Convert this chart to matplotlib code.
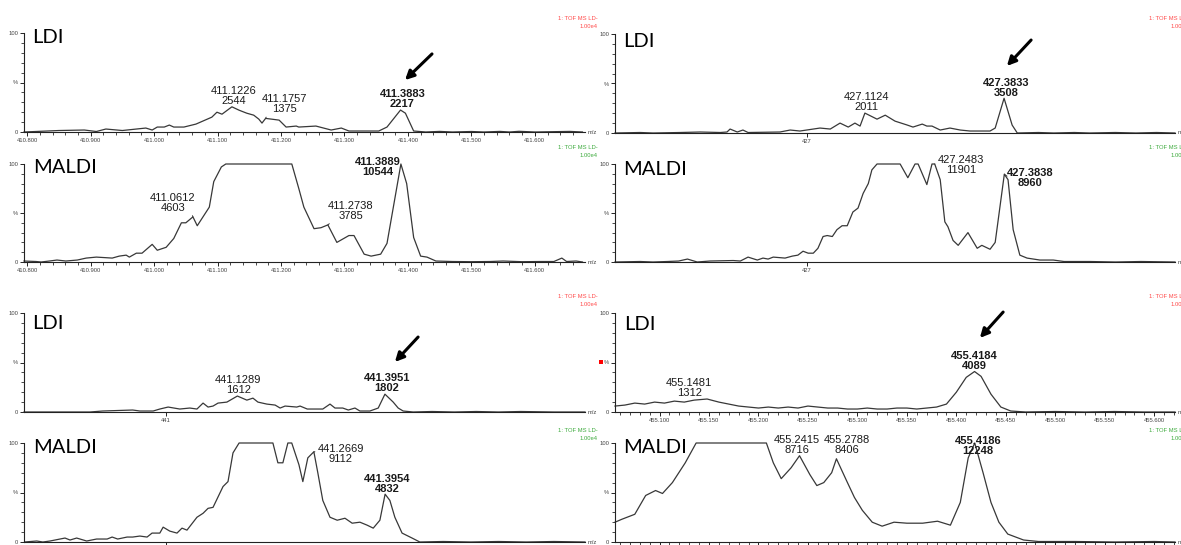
import numpy as np
import matplotlib.pyplot as plt
from matplotlib.ticker import MultipleLocator, FixedLocator

# ---- spectra: m/z and relative intensity (% of 1.00e4) ----
ldi_411_mz = [410.795, 410.850, 410.890, 410.909, 410.924, 410.950, 410.987, 410.997, 411.005,
              411.016, 411.024, 411.031, 411.047, 411.066, 411.091, 411.099, 411.107, 411.134,
              411.146, 411.157, 411.165, 411.170, 411.185, 411.197, 411.208, 411.224, 411.228,
              411.255, 411.279, 411.295, 411.307, 411.354, 411.367, 411.396, 411.409, 411.428,
              411.450, 411.470, 411.500, 411.520, 411.545, 411.560, 411.575, 411.600, 411.655,
              411.675]
ldi_411_int = [0, 1.5, 2, 0.5, 3, 1.5, 4, 2, 5,
               5, 7, 5, 5, 8, 15, 20, 18, 22,
               19, 17, 13, 9, 13, 12, 5, 6, 5,
               6, 2, 4, 1, 1, 5, 19, 1, 0,
               0.6, 0, 0.5, 0, 0.6, 0, 0.7, 0, 0.6,
               0]
ldi_411_peaks = [(411.1226, 2544), (411.1757, 1375), (411.3883, 2217)]

maldi_411_mz = [410.795, 410.814, 410.822, 410.835, 410.847, 410.861, 410.879, 410.893, 410.909,
                410.934, 410.945, 410.956, 410.961, 410.972, 410.981, 410.997, 411.005, 411.019,
                411.031, 411.043, 411.050, 411.068, 411.087, 411.094, 411.106, 411.113, 411.217,
                411.228, 411.236, 411.252, 411.263, 411.288, 411.307, 411.315, 411.331, 411.342,
                411.357, 411.367, 411.398, 411.409, 411.420, 411.430, 411.444, 411.470, 411.500,
                411.530, 411.550, 411.580, 411.610, 411.630, 411.6425, 411.650, 411.665, 411.675]
maldi_411_int = [1, 0.5, 0, 1, 2, 1, 2, 4, 5,
                 4, 6, 7, 5, 9, 9, 18, 12, 15,
                 24, 40, 40, 37, 56, 82, 97, 100, 100,
                 75, 56, 34, 35, 20, 27, 27, 8, 6,
                 8, 19, 80, 25, 6, 5, 1, 0.5, 0.3,
                 0.5, 1, 0.3, 0.5, 0.5, 4, 0.5, 1, 0]
maldi_411_peaks = [(411.0612, 4603), (411.3889, 10544), (411.2738, 3785)]

ldi_427_mz = [426.626, 426.675, 426.700, 426.753, 426.792, 426.831, 426.844, 426.850, 426.864,
              426.875, 426.885, 426.947, 426.967, 426.986, 427.025, 427.045, 427.064, 427.080,
              427.093, 427.103, 427.136, 427.152, 427.171, 427.195, 427.206, 427.224, 427.233,
              427.243, 427.259, 427.278, 427.298, 427.317, 427.337, 427.356, 427.366, 427.399,
              427.409, 427.450, 427.480, 427.520, 427.550, 427.600, 427.640, 427.680, 427.716]
ldi_427_int = [0, 0.5, 0, 0.5, 1, 0.5, 1, 4, 1,
               3, 0.5, 1, 3, 2, 5, 4, 10, 6,
               10, 7, 14, 18, 12, 8, 6, 9, 7,
               7, 3, 5, 3, 2, 2, 2, 5, 8,
               0, 0.5, 0, 0.5, 0, 0.5, 0, 0.5, 0]
ldi_427_peaks = [(427.1124, 2011), (427.3833, 3508)]

maldi_427_mz = [426.626, 426.675, 426.700, 426.728, 426.750, 426.767, 426.786, 426.811, 426.856,
                426.870, 426.885, 426.903, 426.914, 426.924, 426.934, 426.957, 426.971, 426.982,
                426.992, 427.002, 427.012, 427.021, 427.031, 427.039, 427.049, 427.058, 427.068,
                427.078, 427.089, 427.099, 427.109, 427.119, 427.126, 427.136, 427.181, 427.196,
                427.210, 427.216, 427.233, 427.243, 427.259, 427.268, 427.274, 427.284, 427.294,
                427.313, 427.331, 427.340, 427.356, 427.366, 427.391, 427.401, 427.414, 427.428,
                427.453, 427.479, 427.500, 427.550, 427.600, 427.650, 427.716]
maldi_427_int = [0, 0.5, 0, 0.5, 1, 3, 0, 1, 1.5,
                 1, 5, 2, 4, 3, 5, 4, 6, 7,
                 11, 9, 9, 14, 26, 27, 26, 33, 37,
                 37, 51, 55, 70, 80, 94, 100, 100, 86,
                 100, 100, 79, 100, 84, 41, 36, 22, 17,
                 30, 14, 17, 13, 20, 84, 33, 7, 4,
                 2, 2, 0.5, 0.5, 0, 0.5, 0]
maldi_427_peaks = [(427.2483, 11901), (427.3838, 8960)]

ldi_441_mz = [440.744, 440.863, 440.886, 440.940, 440.953, 440.977, 440.989, 441.004, 441.025,
              441.043, 441.056, 441.067, 441.076, 441.085, 441.094, 441.110, 441.146, 441.157,
              441.166, 441.182, 441.197, 441.206, 441.215, 441.236, 441.242, 441.255, 441.283,
              441.296, 441.305, 441.319, 441.329, 441.341, 441.350, 441.368, 441.383, 441.410,
              441.419, 441.428, 441.446, 441.480, 441.520, 441.560, 441.600, 441.640, 441.700,
              441.756]
ldi_441_int = [0, 0, 1, 2, 1, 1, 3, 5, 3,
               4, 3, 9, 5, 6, 9, 10, 12, 14,
               10, 8, 7, 4, 6, 5, 6, 3, 3,
               8, 4, 4, 2, 4, 1, 1, 4, 10,
               4, 1, 0, 0.5, 0, 0.5, 0, 0.5, 0,
               0]
ldi_441_peaks = [(441.1289, 1612), (441.3951, 1802)]

maldi_441_mz = [440.745, 440.767, 440.778, 440.791, 440.818, 440.827, 440.839, 440.857, 440.875,
                440.894, 440.903, 440.913, 440.930, 440.940, 440.953, 440.966, 440.975, 440.989,
                440.995, 441.007, 441.020, 441.029, 441.038, 441.056, 441.067, 441.076, 441.085,
                441.103, 441.112, 441.121, 441.132, 441.193, 441.202, 441.211, 441.220, 441.227,
                441.240, 441.247, 441.256, 441.274, 441.283, 441.296, 441.309, 441.323, 441.336,
                441.350, 441.363, 441.374, 441.386, 441.404, 441.413, 441.426, 441.444, 441.458,
                441.500, 441.550, 441.600, 441.650, 441.700, 441.756]
maldi_441_int = [0, 1, 0, 1, 4, 2, 4, 1, 3,
                 3, 5, 3, 5, 5, 6, 5, 9, 9,
                 15, 11, 9, 14, 12, 25, 29, 34, 35,
                 56, 61, 90, 100, 100, 80, 80, 100, 100,
                 78, 61, 85, 70, 42, 25, 22, 24, 19,
                 20, 17, 14, 22, 42, 25, 9, 4, 0,
                 0.5, 0, 0.5, 0, 0.5, 0]
maldi_441_peaks = [(441.2669, 9112), (441.3954, 4832)]

ldi_455_mz = [455.055, 455.065, 455.075, 455.085, 455.095, 455.105, 455.115, 455.125, 455.135,
              455.160, 455.170, 455.180, 455.190, 455.200, 455.210, 455.220, 455.230, 455.240,
              455.250, 455.260, 455.270, 455.280, 455.290, 455.300, 455.310, 455.320, 455.330,
              455.340, 455.350, 455.360, 455.370, 455.380, 455.390, 455.400, 455.410, 455.425,
              455.435, 455.445, 455.455, 455.470, 455.500, 455.530, 455.560, 455.590, 455.621]
ldi_455_int = [6, 7, 9, 8, 10, 9, 11, 10, 12,
               10, 8, 6, 5, 4, 5, 4, 5, 4,
               6, 5, 4, 4, 3, 3, 4, 3, 3,
               4, 4, 3, 4, 5, 8, 20, 35, 36,
               18, 5, 1, 0, 0.5, 0, 0.5, 0, 0]
ldi_455_peaks = [(455.1481, 1312), (455.4184, 4089)]

maldi_455_mz = [455.055, 455.062, 455.075, 455.086, 455.096, 455.103, 455.113, 455.126, 455.137,
                455.208, 455.215, 455.223, 455.233, 455.252, 455.259, 455.266, 455.274, 455.289,
                455.297, 455.305, 455.315, 455.325, 455.337, 455.350, 455.366, 455.381, 455.394,
                455.404, 455.412, 455.427, 455.435, 455.443, 455.452, 455.468, 455.483, 455.520,
                455.560, 455.600, 455.621]
maldi_455_int = [20, 23, 28, 47, 52, 49, 60, 80, 100,
                 100, 80, 64, 75, 68, 57, 60, 70, 62,
                 45, 32, 20, 16, 20, 19, 19, 21, 17,
                 40, 85, 70, 40, 20, 8, 2, 0.5, 0.5,
                 0, 0.5, 0]
maldi_455_peaks = [(455.2415, 8716), (455.2788, 8406), (455.4186, 12248)]

W, H = 1181, 545
fig = plt.figure(figsize=(W / 100, H / 100), dpi=100)
tick_font = dict(family='Liberation Sans', size=4.2)
line_col = '#383838'


def make_axes(left, top, right, bottom):
    return fig.add_axes([left / W, 1 - bottom / H, (right - left) / W, (bottom - top) / H])


def spectrum(ax, mz, inten, peaks, offsets, bold, xlim, major, minor=None, labels=None, leaders=None):
    x = np.array(mz + [p[0] for p in peaks])
    y = np.array(inten + [p[1] / 100 for p in peaks])
    order = np.argsort(x)
    ax.plot(x[order], np.clip(y[order], 0, 100), color=line_col, lw=0.9, clip_on=False)
    ax.set_xlim(*xlim)
    ax.set_ylim(0, 100)
    for s in ('top', 'right'):
        ax.spines[s].set_visible(False)
    for s in ('left', 'bottom'):
        ax.spines[s].set_linewidth(0.8)
        ax.spines[s].set_color('#222222')
    ax.yaxis.set_major_locator(FixedLocator([0, 50, 100]))
    ax.yaxis.set_minor_locator(MultipleLocator(10))
    ax.set_yticklabels(['0', '%', '100'], fontdict=tick_font, color='#444444')
    ax.tick_params(axis='y', which='major', length=3, width=0.6, pad=1)
    ax.tick_params(axis='y', which='minor', length=2, width=0.5)
    ax.xaxis.set_major_locator(FixedLocator(major))
    if minor:
        ax.xaxis.set_minor_locator(MultipleLocator(minor))
    ax.set_xticklabels(labels if labels else [str(v) for v in major], fontdict=tick_font, color='#444444')
    ax.tick_params(axis='x', which='major', length=3, width=0.6, pad=1)
    ax.tick_params(axis='x', which='minor', length=2, width=0.5)
    ax.text(1.004, 0, 'm/z', transform=ax.transAxes, ha='left', va='center', fontdict=tick_font, color='#444444')
    if leaders is None:
        leaders = [None] * len(peaks)
    for (m, c), (dx, dy), b, rp in zip(peaks, offsets, bold, leaders):
        props = None
        if rp is not None:
            # short leader from the peak apex to its label
            props = dict(arrowstyle='-', lw=0.7, color=line_col, relpos=rp, shrinkA=0, shrinkB=0)
        ax.annotate(f'{m:.4f}\n{c}', xy=(m, min(c / 100, 100)), xytext=(dx, dy),
                    textcoords='offset pixels', ha='center', va='bottom', fontsize=8,
                    family='Liberation Sans', fontweight='bold' if b else 'normal',
                    linespacing=1.0, color='#1a1a1a', annotation_clip=False, arrowprops=props)


def arrow(ax, tail, head):
    ax.annotate('', xy=(head[0], H - head[1]), xycoords='figure pixels',
                xytext=(tail[0], H - tail[1]), textcoords='figure pixels',
                arrowprops=dict(arrowstyle='-|>', color='black', lw=2.2, mutation_scale=13),
                annotation_clip=False)


def header(x_right, y_top, color):
    fig.text(x_right / W, 1 - y_top / H, '1: TOF MS LD-', ha='right', va='center',
             fontdict=tick_font, color=color)
    fig.text(x_right / W, 1 - (y_top + 8) / H, '1.00e4', ha='right', va='center',
             fontdict=tick_font, color=color)


def tag(x, y_base, s):
    fig.text(x / W, 1 - y_base / H, s, ha='left', va='baseline', fontsize=14.5, family='Lato')


lab_411 = [f'{v:.3f}' for v in np.arange(410.8, 411.65, 0.1)]
lab_455 = [f'{v:.3f}' for v in np.arange(455.1, 455.65, 0.05)]
ticks_411 = [round(v, 3) for v in np.arange(410.8, 411.65, 0.1)]
ticks_455 = [round(v, 3) for v in np.arange(455.1, 455.65, 0.05)]

red, green = '#ff4a4a', '#3caa3c'

# 411 pair
ax = make_axes(24, 33, 585, 132)
spectrum(ax, ldi_411_mz, ldi_411_int, ldi_411_peaks, [(2, 1), (19, 4), (2, 1)], [0, 0, 1],
         (410.795, 411.679), ticks_411, 0.02, lab_411, leaders=[None, (0.12, 0), None])
arrow(ax, (434, 52), (403, 82))
ax = make_axes(24, 164, 585, 262)
spectrum(ax, maldi_411_mz, maldi_411_int, maldi_411_peaks, [(-20, 4), (-23, -13), (23, 4)], [0, 1, 0],
         (410.795, 411.679), ticks_411, 0.02, lab_411, leaders=[(0.9, 0), None, (0.1, 0)])

# 427 pair
ax = make_axes(615, 34, 1175, 133)
spectrum(ax, ldi_427_mz, ldi_427_int, ldi_427_peaks, [(2, 1), (2, 0)], [0, 1],
         (426.626, 427.716), [427])
arrow(ax, (1033, 38), (1005, 68))
ax = make_axes(615, 164, 1175, 262)
spectrum(ax, maldi_427_mz, maldi_427_int, maldi_427_peaks, [(26, -11), (26, -14)], [0, 1],
         (426.626, 427.716), [427], leaders=[(0, 0.55), (0, 0.6)])

# 441 pair
ax = make_axes(24, 313, 585, 412)
spectrum(ax, ldi_441_mz, ldi_441_int, ldi_441_peaks, [(1, 1), (2, 1)], [0, 1],
         (440.744, 441.756), [441])
arrow(ax, (420, 335), (393, 364))
ax = make_axes(24, 443, 585, 542)
spectrum(ax, maldi_441_mz, maldi_441_int, maldi_441_peaks, [(27, -12), (2, 0)], [0, 1],
         (440.744, 441.756), [441], leaders=[(0, 0.6), None])

# 455 pair
ax = make_axes(615, 313, 1175, 412)
spectrum(ax, ldi_455_mz, ldi_455_int, ldi_455_peaks, [(-18, 1), (0, 1)], [0, 1],
         (455.055, 455.621), ticks_455, 0.01, lab_455)
arrow(ax, (1005, 310), (978, 340))
ax = make_axes(615, 443, 1175, 542)
spectrum(ax, maldi_455_mz, maldi_455_int, maldi_455_peaks, [(-3, 1), (10, 4), (3, -13)], [0, 0, 1],
         (455.055, 455.621), ticks_455, 0.01, lab_455)

# instrument headers
header(598, 18, red)
header(598, 147, green)
header(598, 297, red)
header(598, 430, green)
header(1189, 18, red)
header(1189, 147, green)
header(1189, 297, red)
header(1189, 430, green)
fig.add_artist(plt.Rectangle((599 / W, 1 - 364 / H), 4 / W, 4 / H, transform=fig.transFigure,
                             color='red', lw=0))

tag(32, 43, 'LDI')
tag(33, 173, 'MALDI')
tag(623, 47, 'LDI')
tag(623, 175, 'MALDI')
tag(32, 329, 'LDI')
tag(33, 453, 'MALDI')
tag(624, 330, 'LDI')
tag(623, 453, 'MALDI')

fig.savefig('out.png', dpi=100, facecolor='white')
